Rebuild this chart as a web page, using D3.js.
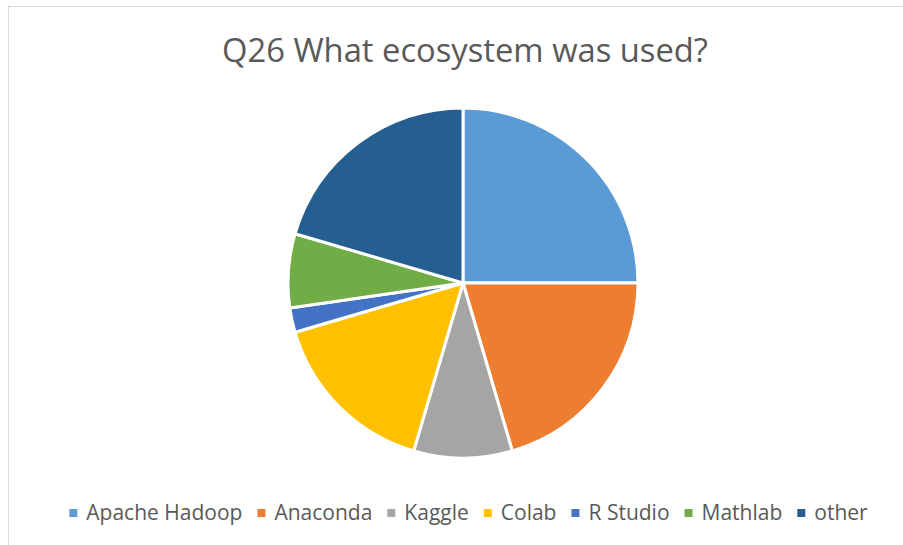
<!DOCTYPE html>
<html>
<head>
<meta charset="utf-8">
<script src="https://cdn.jsdelivr.net/npm/d3@7"></script>
<style>
  body { margin: 0; background: #fff; }
  text { font-family: "Open Sans", "Liberation Sans", sans-serif; fill: #595959; }
</style>
</head>
<body>
<svg width="903" height="545"></svg>
<script>
// Chart data
const title = "Q26 What ecosystem was used?";
const categories = ["Apache Hadoop", "Anaconda", "Kaggle", "Colab", "R Studio", "Mathlab", "other"];
const counts = [11, 9, 4, 7, 1, 3, 9];
const colors = ["#5B9BD5", "#ED7D31", "#A5A5A5", "#FFC000", "#4472C4", "#70AD47", "#255E91"];

const svg = d3.select("svg"),
      width = 903,
      height = 545;

// chart area border
svg.append("rect")
    .attr("x", 8.5)
    .attr("y", 6.5)
    .attr("width", width)
    .attr("height", height)
    .attr("fill", "none")
    .attr("stroke", "#d9d9d9")
    .attr("stroke-width", 1);

svg.append("text")
    .attr("x", 465)
    .attr("y", 62)
    .attr("text-anchor", "middle")
    .attr("font-size", 33)
    .attr("textLength", 486)
    .attr("lengthAdjust", "spacingAndGlyphs")
    .text(title);

const cx = 463, cy = 283, radius = 175;

const pie = d3.pie().sort(null).value(d => d);
const arc = d3.arc().innerRadius(0).outerRadius(radius);
const color = d3.scaleOrdinal().domain(categories).range(colors);

const g = svg.append("g")
    .attr("transform", `translate(${cx},${cy})`);

g.selectAll("path")
    .data(pie(counts))
    .join("path")
    .attr("d", arc)
    .attr("fill", (d, i) => color(categories[i]))
    .attr("stroke", "#fff")
    .attr("stroke-width", 3)
    .attr("stroke-linejoin", "round");

// Legend, laid out from measured text widths and centred
const legend = svg.append("g");
const fontSize = 21, sw = 8, gapText = 9, gapItem = 15;
const items = legend.selectAll("g")
    .data(categories)
    .join("g");

items.append("rect")
    .attr("width", sw)
    .attr("height", sw)
    .attr("y", -sw / 2)
    .attr("fill", d => color(d));

items.append("text")
    .attr("x", sw + gapText)
    .attr("dy", "0.35em")
    .attr("font-size", fontSize)
    .text(d => d);

let offset = 0;
items.each(function() {
    const w = d3.select(this).select("text").node().getComputedTextLength();
    d3.select(this).attr("transform", `translate(${offset},0)`);
    offset += sw + gapText + w + gapItem;
});
const total = offset - gapItem;
legend.attr("transform", `translate(${468.5 - total / 2},513)`);
</script>
</body>
</html>
